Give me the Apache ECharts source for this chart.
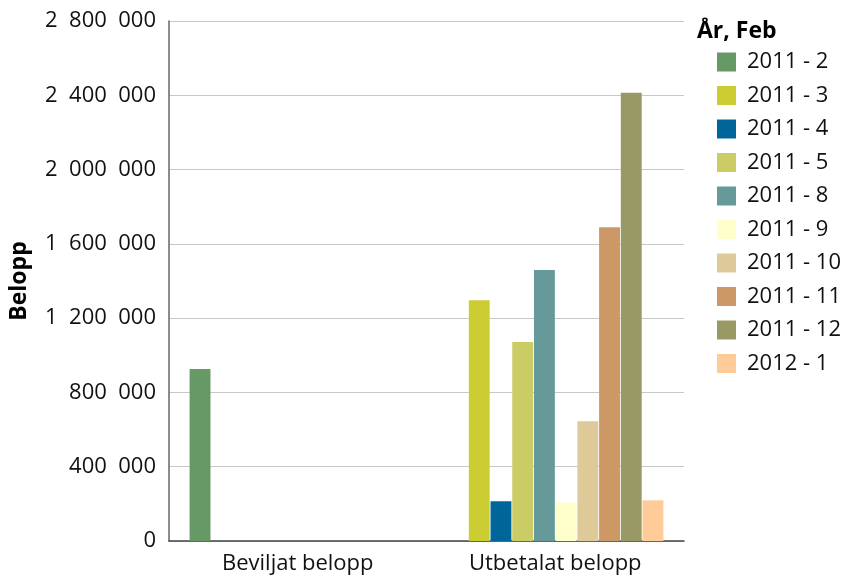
<!DOCTYPE html>
<html>
<head>
<meta charset="utf-8">
<script src="https://cdn.jsdelivr.net/npm/echarts@6/dist/echarts.min.js"></script>
<style>
html,body{margin:0;padding:0;background:#fff;}
#chart{width:844px;height:580px;}
</style>
</head>
<body>
<div id="chart"></div>
<script>
const categories = ['Beviljat belopp', 'Utbetalat belopp'];
const seriesNames = ['2011 - 2', '2011 - 3', '2011 - 4', '2011 - 5', '2011 - 8', '2011 - 9', '2011 - 10', '2011 - 11', '2011 - 12', '2012 - 1'];
const beviljatValues = [926000, null, null, null, null, null, null, null, null, null];
const utbetalatValues = [null, 1297000, 214000, 1071000, 1459000, 208000, 645000, 1690000, 2413000, 219000];
const seriesColors = ['#669966', '#CCCC33', '#006699', '#CCCC66', '#669999', '#FFFFCC', '#DDCA98', '#CC9966', '#999966', '#FFCC99'];
const yTicks = { min: 0, max: 2800000, interval: 400000 };
const yAxisName = 'Belopp';
const legendTitle = 'År, Feb';

const FONT = '"Open Sans", "Noto Sans", sans-serif';

function fmt(v) {
  const s = String(Math.round(v));
  return s.replace(/\B(?=(\d{3})+(?!\d))/g, '  ');
}

const series = seriesNames.map((name, i) => ({
  name: name,
  type: 'bar',
  data: [beviljatValues[i], utbetalatValues[i]],
  itemStyle: { color: seriesColors[i] },
  barGap: '4%',
  barCategoryGap: '16%'
}));

const chart = echarts.init(document.getElementById('chart'), null, { renderer: 'canvas' });
chart.setOption({
  animation: false,
  backgroundColor: '#ffffff',
  textStyle: { fontFamily: FONT },
  grid: { left: 167, right: 160, top: 21, bottom: 39 },
  graphic: [{
    type: 'text',
    left: 697,
    top: 20,
    style: { text: legendTitle, font: 'bold 23px ' + FONT, fill: '#000' }
  }],
  legend: {
    orient: 'vertical',
    left: 717,
    top: 51,
    padding: 0,
    itemWidth: 19,
    itemHeight: 19,
    itemGap: 11.5,
    icon: 'rect',
    textStyle: { fontSize: 22, color: '#111', fontFamily: FONT, padding: [0, 0, 0, 6] },
    data: seriesNames
  },
  xAxis: {
    type: 'category',
    data: categories,
    axisLine: { lineStyle: { color: '#444', width: 1.5 } },
    axisTick: { show: false },
    axisLabel: { fontSize: 22, color: '#111', margin: 12, fontFamily: FONT }
  },
  yAxis: {
    type: 'value',
    min: yTicks.min,
    max: yTicks.max,
    interval: yTicks.interval,
    name: yAxisName,
    nameLocation: 'middle',
    nameGap: 138,
    nameTextStyle: { fontSize: 23, fontWeight: 'bold', color: '#000', fontFamily: FONT },
    axisLine: { show: true, lineStyle: { color: '#666', width: 1.5 } },
    axisTick: { show: false },
    splitLine: { lineStyle: { color: '#c8c8c8', width: 1.2 } },
    axisLabel: { fontSize: 22, color: '#111', margin: 13, fontFamily: FONT, formatter: fmt }
  },
  series: series
});
</script>
</body>
</html>
